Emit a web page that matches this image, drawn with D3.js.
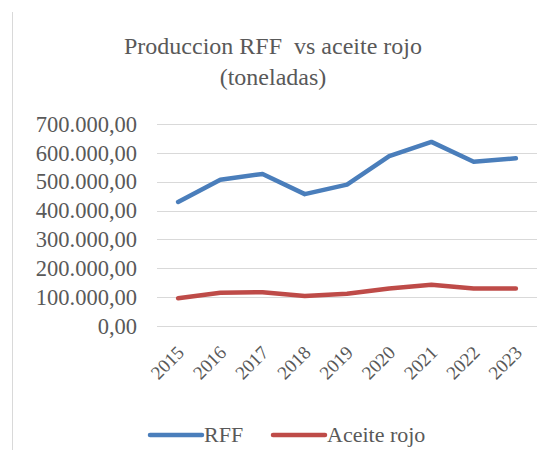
<!DOCTYPE html>
<html>
<head>
<meta charset="utf-8">
<script src="https://cdn.jsdelivr.net/npm/d3@7"></script>
<style>
  body { margin: 0; background: #fff; }
  svg text { font-family: "Liberation Serif", "DejaVu Serif", serif; fill: #595959; }
</style>
</head>
<body>
<div id="chart"></div>
<script>
// data
const years = ["2015", "2016", "2017", "2018", "2019", "2020", "2021", "2022", "2023"];
const rff = [430000, 507000, 527000, 457000, 490000, 589000, 638000, 569000, 581000];
const aceite = [96000, 115000, 117000, 104000, 112000, 130000, 143000, 130000, 130000];
const yTicks = [0, 100000, 200000, 300000, 400000, 500000, 600000, 700000];
const seriesNames = ["RFF", "Aceite rojo"];
const seriesColors = ["#4a7ebb", "#be4b48"];

const width = 555, height = 450;

const svg = d3.select("#chart").append("svg")
    .attr("width", width)
    .attr("height", height);

// chart frame, only left edge visible
svg.append("line")
    .attr("x1", 12.5).attr("x2", 12.5)
    .attr("y1", 12).attr("y2", height)
    .attr("stroke", "#d9d9d9")
    .attr("stroke-width", 1);

// title (keep the double space)
const title = svg.append("text")
    .attr("text-anchor", "middle")
    .style("white-space", "pre")
    .style("font-size", "24px");
title.append("tspan").attr("x", 273).attr("y", 54).text("Produccion RFF  vs aceite rojo");
title.append("tspan").attr("x", 273).attr("y", 85).text("(toneladas)");

// scales
const x = d3.scalePoint().domain(years).range([157, 537]).padding(0.5);
const y = d3.scaleLinear().domain([0, 700000]).range([326, 124]);

// gridlines
svg.append("g")
    .selectAll("line")
    .data(yTicks)
    .join("line")
    .attr("x1", 157).attr("x2", 537)
    .attr("y1", d => Math.round(y(d)) + 0.5)
    .attr("y2", d => Math.round(y(d)) + 0.5)
    .attr("stroke", "#d9d9d9")
    .attr("stroke-width", 1);

// y axis labels
const fmt = d => d3.format(",.2f")(d).replace(/,/g, "#").replace(".", ",").replace(/#/g, ".");
const yAxis = d3.axisLeft(y).tickValues(yTicks).tickSize(0).tickPadding(0).tickFormat(fmt);
svg.append("g")
    .attr("transform", "translate(137,0)")
    .call(yAxis)
    .call(g => g.select(".domain").remove())
    .selectAll("text")
    .attr("font-family", null)
    .attr("fill", null)
    .style("font-size", "22.5px");

// x axis labels
const xAxis = d3.axisBottom(x).tickSize(0).tickPadding(0);
svg.append("g")
    .call(xAxis)
    .call(g => g.select(".domain").remove())
    .selectAll("text")
    .attr("font-family", null)
    .attr("fill", null)
    .style("font-size", "19px")
    .attr("text-anchor", "end")
    .attr("y", 0)
    .attr("dy", "0.35em")
    .attr("transform", "translate(2,349) rotate(-45)");

// lines
const line = d3.line()
    .x((d, i) => x(years[i]))
    .y(d => y(d));

[rff, aceite].forEach((vals, i) => {
    svg.append("path")
        .datum(vals)
        .attr("d", line)
        .attr("fill", "none")
        .attr("stroke", seriesColors[i])
        .attr("stroke-width", 4.5)
        .attr("stroke-linejoin", "round")
        .attr("stroke-linecap", "round");
});

// legend
const legendX = [150, 273];
const legend = svg.append("g");
seriesNames.forEach((name, i) => {
    legend.append("line")
        .attr("x1", legendX[i]).attr("x2", legendX[i] + 52)
        .attr("y1", 435).attr("y2", 435)
        .attr("stroke", seriesColors[i])
        .attr("stroke-width", 4.5)
        .attr("stroke-linecap", "round");
    legend.append("text")
        .attr("x", legendX[i] + 54)
        .attr("y", 442)
        .style("font-size", "22px")
        .text(name);
});
</script>
</body>
</html>
